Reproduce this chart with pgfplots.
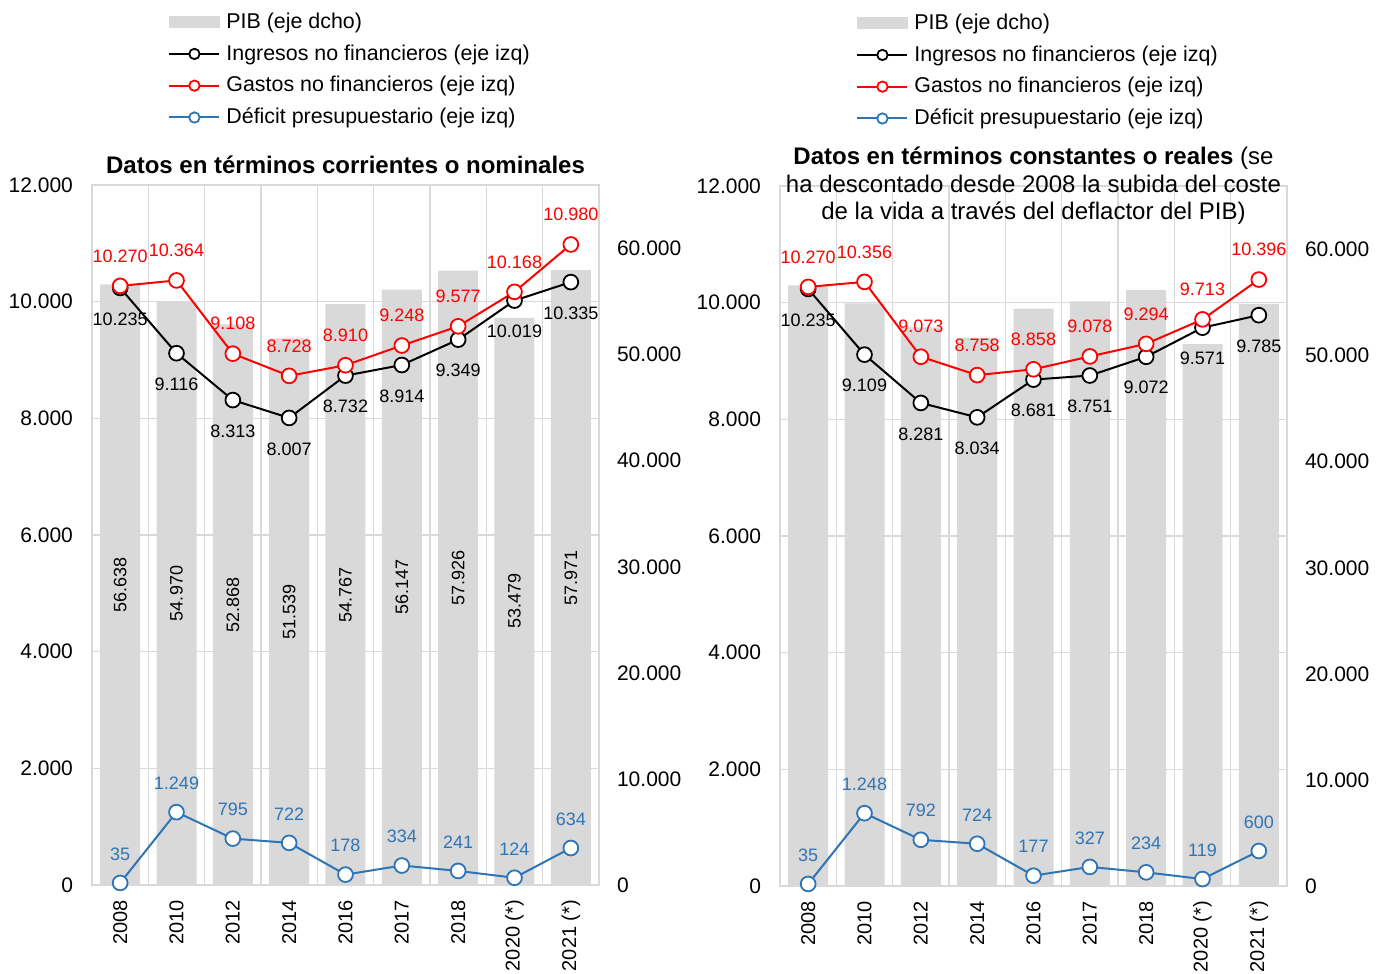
\documentclass[border=0pt]{standalone}
\usepackage{pgfplots}
\pgfplotsset{compat=1.18}
\usepackage{pgfplotstable}
\usepackage{fontspec}
\setmainfont{Liberation Sans}
\definecolor{pibgray}{HTML}{D9D9D9}
\definecolor{gridgray}{HTML}{D9D9D9}
\definecolor{rojo}{HTML}{FF0000}
\definecolor{azul}{HTML}{2E75B6}

\pgfplotstableread{
x pib ing gas def
0 56638 10235 10270 35
1 54970 9116 10364 1249
2 52868 8313 9108 795
3 51539 8007 8728 722
4 54767 8732 8910 178
5 56147 8914 9248 334
6 57926 9349 9577 241
7 53479 10019 10168 124
8 57971 10335 10980 634
}\datL

\pgfplotstableread{
x pib ing gas def
0 56638 10235 10270 35
1 54928 9109 10356 1248
2 52664 8281 9073 792
3 51713 8034 8758 724
4 54447 8681 8858 177
5 55120 8751 9078 327
6 56210 9072 9294 234
7 51088 9571 9713 119
8 54886 9785 10396 600
}\datR

\pgfplotsset{
  base/.style={
    width=253.5pt, height=350pt, scale only axis,
    xmin=-0.5, xmax=8.5, clip=false,
    /pgf/number format/.cd, 1000 sep={.}, assume math mode=true, /pgfplots/.cd,
    major tick length=0pt, minor tick length=0pt,
    scaled y ticks=false,
    tick label style={font=\fontsize{10.5}{12}\selectfont},
  },
  baraxis/.style={
    base,
    ymin=0, ymax=66000,
    ytick={0,10000,...,60000},
    yticklabel pos=right,
    yticklabel style={xshift=5.5pt},
    xtick={0,...,8},
    xticklabels={2008,2010,2012,2014,2016,2017,2018,2020 (*),2021 (*)},
    xticklabel style={rotate=90, anchor=east, xshift=-4pt, font=\fontsize{10}{12}\selectfont},
    minor xtick={-0.5,0.5,...,8.5},
    xminorgrids,
    minor grid style={gridgray, line width=0.7pt},
    extra y ticks={11000,22000,33000,44000,55000},
    extra y tick labels={},
    extra y tick style={grid=major, major grid style={gridgray, line width=0.7pt}},
    axis line style={gridgray, line width=0.7pt},
  },
  lineaxis/.style={
    base,
    ymin=0, ymax=12000,
    ytick={0,2000,...,12000},
    hide x axis,
    axis y line*=left,
    y axis line style={draw=none},
    yticklabel style={xshift=-6pt},
    legend cell align=left,
    legend style={draw=none, fill=none, font=\fontsize{10.7}{12}\selectfont,
      row sep=2.6pt, inner sep=0pt,
      nodes={inner xsep=3pt},
      at={(0.15,1.252)}, anchor=north west},
    legend image code/.code={%
      \draw[mark repeat=2, mark phase=2, #1, mark size=2.6pt]
        plot coordinates {(0pt,0pt) (12.5pt,0pt) (25pt,0pt)};},
  },
  serie/.style={line width=1pt, mark=*, mark size=3.7pt,
    mark options={fill=white, line width=0.9pt}},
  lab/.style={nodes near coords={\pgfmathprintnumber{\pgfplotspointmeta}},
    point meta=y},
}

\begin{document}
\begin{tikzpicture}
\useasboundingbox (0,0) rectangle (694.5pt,487pt);

% ---------- LEFT PANEL ----------
\begin{axis}[baraxis, at={(46pt,44.5pt)}, anchor=south west]
  \addplot[ybar, bar width=20pt, fill=pibgray, draw=none] table[x=x,y=pib]{\datL};
  \addplot[draw=none, mark=none,
    nodes near coords={\pgfmathprintnumber{\pgfplotspointmeta}},
    point meta=\thisrow{pib},
    nodes near coords style={rotate=90, anchor=center, font=\fontsize{9}{10}\selectfont, text=black}]
    table[x=x, y expr=\thisrow{pib}/2]{\datL};
\end{axis}
\begin{axis}[lineaxis, at={(46pt,44.5pt)}, anchor=south west,
  title={\textbf{Datos en términos corrientes o nominales}},
  title style={at={(0.5,1)}, anchor=center, yshift=4pt, font=\fontsize{12}{14}\selectfont}]
  \addlegendimage{legend image code/.code={\fill[pibgray] (0pt,-2.75pt) rectangle (25pt,2.75pt);}}
  \addlegendentry{PIB (eje dcho)}
  \addplot[serie, black, lab, nodes near coords style={anchor=center, yshift=-15.5pt, font=\fontsize{9}{10}\selectfont, text=black}] table[x=x,y=ing]{\datL};
  \addlegendentry{Ingresos no financieros (eje izq)}
  \addplot[serie, rojo, lab, nodes near coords style={anchor=center, yshift=15pt, font=\fontsize{9}{10}\selectfont, text=rojo}] table[x=x,y=gas]{\datL};
  \addlegendentry{Gastos no financieros (eje izq)}
  \addplot[serie, azul, lab, nodes near coords style={anchor=center, yshift=14.5pt, font=\fontsize{9}{10}\selectfont, text=azul}] table[x=x,y=def]{\datL};
  \addlegendentry{Déficit presupuestario (eje izq)}
\end{axis}

% ---------- RIGHT PANEL ----------
\begin{axis}[baraxis, at={(390pt,44pt)}, anchor=south west]
  \addplot[ybar, bar width=20pt, fill=pibgray, draw=none] table[x=x,y=pib]{\datR};
\end{axis}
\begin{axis}[lineaxis, at={(390pt,44pt)}, anchor=south west,
  title={\textbf{Datos en términos constantes o reales} (se\\ha descontado desde 2008 la subida del coste\\de la vida a través del deflactor del PIB)},
  title style={at={(0.5,1)}, anchor=center, yshift=-6pt, align=center, font=\fontsize{12}{13.75}\selectfont}]
  \addlegendimage{legend image code/.code={\fill[pibgray] (0pt,-2.75pt) rectangle (25pt,2.75pt);}}
  \addlegendentry{PIB (eje dcho)}
  \addplot[serie, black, lab, nodes near coords style={anchor=center, yshift=-15.5pt, font=\fontsize{9}{10}\selectfont, text=black}] table[x=x,y=ing]{\datR};
  \addlegendentry{Ingresos no financieros (eje izq)}
  \addplot[serie, rojo, lab, nodes near coords style={anchor=center, yshift=15pt, font=\fontsize{9}{10}\selectfont, text=rojo}] table[x=x,y=gas]{\datR};
  \addlegendentry{Gastos no financieros (eje izq)}
  \addplot[serie, azul, lab, nodes near coords style={anchor=center, yshift=14.5pt, font=\fontsize{9}{10}\selectfont, text=azul}] table[x=x,y=def]{\datR};
  \addlegendentry{Déficit presupuestario (eje izq)}
\end{axis}
\end{tikzpicture}
\end{document}
